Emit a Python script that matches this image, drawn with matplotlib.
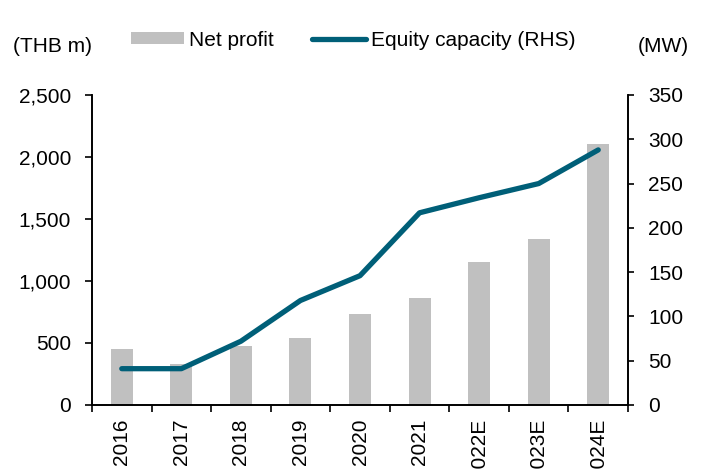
import matplotlib
matplotlib.use('Agg')
import matplotlib.pyplot as plt
import numpy as np

# data
years = ['2016', '2017', '2018', '2019', '2020', '2021', '2022E', '2023E', '2024E']
net_profit = [448, 331, 477, 542, 735, 864, 1155, 1337, 2108]        # THB m, left axis
equity_capacity = [41, 41, 72, 118, 146, 217, 234, 250, 288]          # MW, right axis

plt.rcParams['font.family'] = ['Liberation Sans', 'DejaVu Sans']
plt.rcParams['font.size'] = 15

bar_color = '#c0c0c0'
line_color = '#005f78'

fig = plt.figure(figsize=(7.05, 4.70), dpi=100)
ax = fig.add_axes([0.1305, 0.1383, 0.7603, 0.6596])
ax2 = ax.twinx()

x = np.arange(len(years))
bars = ax.bar(x, net_profit, width=0.37, color=bar_color, label='Net profit', zorder=2)
line, = ax2.plot(x, equity_capacity, color=line_color, linewidth=3.8,
                 solid_capstyle='round', label='Equity capacity (RHS)', zorder=3)

ax.set_xlim(-0.5, len(years) - 0.5)
ax.set_ylim(0, 2500)
ax.set_yticks(np.arange(0, 2501, 500))
ax.set_yticklabels([f'{v:,}' for v in range(0, 2501, 500)])
ax2.set_ylim(0, 350)
ax2.set_yticks(np.arange(0, 351, 50))

# category ticks sit between bars, labels at bar centres
ax.set_xticks(np.arange(-0.5, len(years), 1.0))
ax.set_xticklabels([])
ax.set_xticks(x, minor=True)
ax.set_xticklabels(years, minor=True, rotation=90, va='top', ha='center')
ax.tick_params(axis='x', which='minor', length=0, pad=10)
ax.tick_params(axis='x', which='major', direction='out', length=5, width=1.2)
ax.tick_params(axis='y', direction='out', length=5, width=1.2, pad=10)
ax2.tick_params(axis='y', direction='out', length=4.5, width=1.2, pad=10)

for a in (ax, ax2):
    a.spines['top'].set_visible(False)
    for s in ('left', 'right', 'bottom'):
        a.spines[s].set_linewidth(1.2)

fig.text(13 / 705, 1 - 46 / 470, '(THB m)', ha='left', va='center')
fig.text(689 / 705, 1 - 46 / 470, '(MW)', ha='right', va='center')

fig.legend(handles=[bars, line], loc='center', bbox_to_anchor=(353 / 705, 1 - 40 / 470),
           ncol=2, frameon=False, handlelength=2.55, handleheight=0.5,
           handletextpad=0.25, columnspacing=1.85, borderpad=0, borderaxespad=0)

fig.savefig('out.png', dpi=100)
